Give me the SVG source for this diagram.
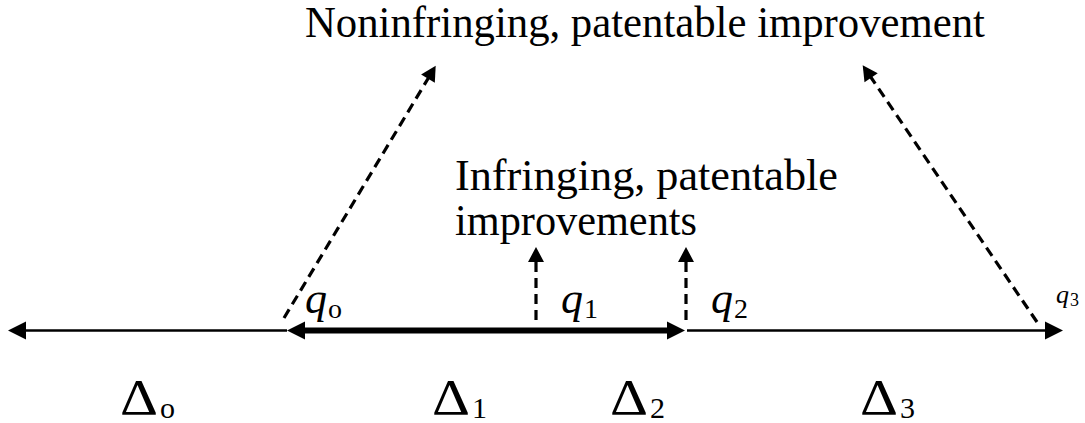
<svg xmlns="http://www.w3.org/2000/svg" width="1085" height="423" viewBox="0 0 1085 423">
<style>
text{fill:#000}
.big{font-size:43.5px}
.q{font-style:italic;font-size:44px}
.sub{font-size:28px}
.d{font-size:50px}
.ds{font-size:30px}
.solid{stroke:#000;fill:none}
.dash{stroke:#000;stroke-width:3.2;stroke-dasharray:10 6;fill:none}
</style>
<defs>
<marker id="ah" markerUnits="userSpaceOnUse" markerWidth="18" markerHeight="18" refX="2" refY="9" orient="auto-start-reverse" overflow="visible">
<path d="M0,0 L18,9 L0,18 Z" fill="#000"/>
</marker>
<marker id="dh" markerUnits="userSpaceOnUse" markerWidth="16" markerHeight="16" refX="2" refY="8" orient="auto" overflow="visible">
<path d="M0,0 L15,8 L0,16 Z" fill="#000"/>
</marker>
</defs>
<g id="connectors">
<line class="solid" x1="24" y1="330.5" x2="287" y2="330.5" stroke-width="2.5" marker-start="url(#ah)"/>
<line class="solid" x1="303" y1="330.5" x2="669" y2="330.5" stroke-width="6" marker-start="url(#ah)" marker-end="url(#ah)"/>
<line class="solid" x1="687" y1="330.5" x2="1047" y2="330.5" stroke-width="2.5" marker-end="url(#ah)"/>
<line class="dash" x1="284" y1="318" x2="429" y2="77" marker-end="url(#dh)"/>
<line class="dash" x1="1037" y1="322" x2="870" y2="76" marker-end="url(#dh)"/>
<line class="dash" x1="536" y1="320" x2="536" y2="260" marker-end="url(#dh)"/>
<line class="dash" x1="686" y1="320" x2="686" y2="260" marker-end="url(#dh)"/>
</g>
<g font-family="Liberation Serif, Times New Roman, serif">
<g id="label-noninfringing"><text class="big" x="305" y="37" textLength="680" lengthAdjust="spacingAndGlyphs">Noninfringing, patentable improvement</text></g>
<g id="label-infringing"><text class="big" x="455" y="190" textLength="383" lengthAdjust="spacingAndGlyphs">Infringing, patentable</text><text class="big" x="455" y="235" textLength="242" lengthAdjust="spacingAndGlyphs">improvements</text></g>
<g id="q0"><text class="q" x="305" y="313">q</text><text class="sub" x="328" y="318">o</text></g>
<g id="q1"><text class="q" x="561" y="313">q</text><text class="sub" x="584" y="318">1</text></g>
<g id="q2"><text class="q" x="711" y="313">q</text><text class="sub" x="734" y="318">2</text></g>
<g id="q3"><text class="q" x="1056" y="303" style="font-size:26px">q</text><text x="1070" y="306" style="font-size:18px">3</text></g>
<g id="delta0"><text class="d" x="120" y="414" textLength="38" lengthAdjust="spacingAndGlyphs">Δ</text><text class="ds" x="160" y="418">o</text></g>
<g id="delta1"><text class="d" x="432" y="414" textLength="38" lengthAdjust="spacingAndGlyphs">Δ</text><text class="ds" x="472" y="418">1</text></g>
<g id="delta2"><text class="d" x="610" y="414" textLength="38" lengthAdjust="spacingAndGlyphs">Δ</text><text class="ds" x="650" y="418">2</text></g>
<g id="delta3"><text class="d" x="860" y="414" textLength="38" lengthAdjust="spacingAndGlyphs">Δ</text><text class="ds" x="900" y="418">3</text></g>
</g>
</svg>
